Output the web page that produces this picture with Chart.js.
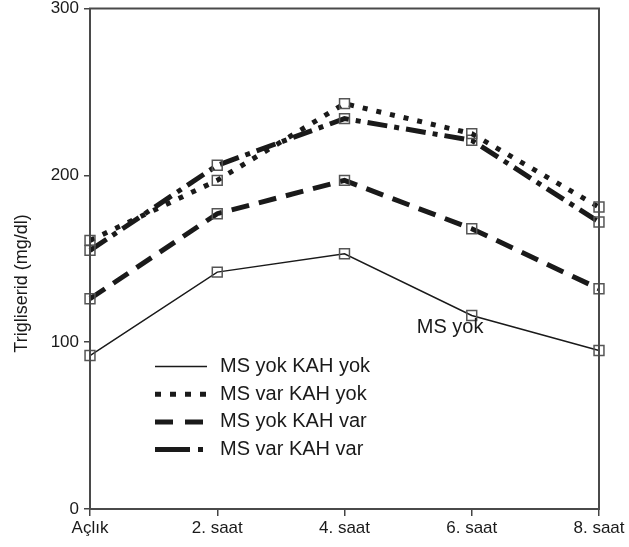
<!DOCTYPE html>
<html>
<head>
<meta charset="utf-8">
<script src="https://cdn.jsdelivr.net/npm/chart.js@4/dist/chart.umd.min.js"></script>
<style>
  html, body { margin: 0; padding: 0; background: #fff; }
  #wrap { width: 629px; height: 547px; }
</style>
</head>
<body>
<div id="wrap"><canvas id="c"></canvas></div>
<script>
// ---------- data ----------
const timeLabels = ["Açlık", "2. saat", "4. saat", "6. saat", "8. saat"];
const seriesNames = ["MS yok KAH yok", "MS var KAH yok", "MS yok KAH var", "MS var KAH var"];
const msYokKahYok = [92, 142, 153, 116, 95];
const msVarKahYok = [161, 197, 243, 225, 181];
const msYokKahVar = [126, 177, 197, 168, 132];
const msVarKahVar = [155, 206, 234, 221, 172];
const yTicks = [0, 100, 200, 300];
const yTitle = "Trigliserid (mg/dl)";
const noteText = "MS yok";
const notePos = [2.83, 109];   // category index, y value

const FONT = "'Liberation Sans', Arial, sans-serif";
const ink = '#1a1a1a';

// ---------- styles ----------
const styles = [
    { width: 1.5, dash: [], legendDash: [] },
    { width: 5, dash: [5, 9], legendDash: [6, 9] },
    { width: 5, dash: [18, 10], legendDash: [18, 12] },
    { width: 5, dash: [20, 7, 5, 7], legendDash: [35, 8, 5, 100] }
];
const seriesData = [msYokKahYok, msVarKahYok, msYokKahVar, msVarKahVar];

const datasets = seriesData.map((d, i) => ({
    label: seriesNames[i],
    data: d,
    borderColor: ink,
    borderWidth: styles[i].width,
    borderDash: styles[i].dash,
    borderCapStyle: 'butt',
    tension: 0,
    fill: false,
    pointStyle: 'rect',
    pointRadius: 7,
    pointBorderWidth: 1.5,
    pointBorderColor: '#555',
    pointBackgroundColor: 'rgba(255,255,255,0)'
}));

// ---------- plugin: frame, y title, legend, note ----------
const extras = {
    id: 'extras',
    afterDraw(chart) {
        const { ctx, chartArea: a, scales } = chart;
        ctx.save();
        // frame
        ctx.strokeStyle = '#4a4a4a';
        ctx.lineWidth = 2;
        ctx.strokeRect(a.left, a.top, a.right - a.left, a.bottom - a.top);

        // y axis title
        ctx.fillStyle = ink;
        ctx.font = '18px ' + FONT;
        ctx.textAlign = 'center';
        ctx.textBaseline = 'middle';
        ctx.save();
        ctx.translate(22, a.top + 275);
        ctx.rotate(-Math.PI / 2);
        ctx.fillText(yTitle, 0, 0);
        ctx.restore();

        // legend
        ctx.font = '20px ' + FONT;
        ctx.textAlign = 'left';
        seriesNames.forEach((name, i) => {
            const y = a.top + 358 + i * 27.7;
            const x0 = a.left + 65;
            ctx.strokeStyle = ink;
            ctx.lineWidth = styles[i].width;
            ctx.setLineDash(styles[i].legendDash);
            ctx.lineCap = 'butt';
            ctx.beginPath();
            ctx.moveTo(x0, y);
            ctx.lineTo(x0 + 52, y);
            ctx.stroke();
            ctx.setLineDash([]);
            ctx.fillText(name, x0 + 65, y);
        });

        // note
        ctx.textAlign = 'center';
        ctx.fillText(noteText, scales.x.getPixelForValue(notePos[0]), scales.y.getPixelForValue(notePos[1]));
        ctx.restore();
    }
};

new Chart(document.getElementById('c'), {
    type: 'line',
    data: { labels: timeLabels, datasets },
    options: {
        responsive: true,
        maintainAspectRatio: false,
        animation: false,
        layout: { padding: { top: 7, right: 30, left: 0, bottom: 0 } },
        plugins: { legend: { display: false }, tooltip: { enabled: false } },
        scales: {
            x: {
                offset: false,
                grid: { drawOnChartArea: false, drawTicks: true, tickLength: 7, color: '#444', lineWidth: 1.5 },
                border: { display: true, color: '#4a4a4a', width: 2 },
                ticks: { color: ink, font: { family: FONT, size: 17 }, padding: 2, maxRotation: 0, autoSkip: false },
                afterFit(s) { s.height = 38; s.paddingLeft = 0; s.paddingRight = 0; }
            },
            y: {
                min: 0,
                max: 300,
                afterBuildTicks(s) { s.ticks = yTicks.map(v => ({ value: v })); },
                grid: { drawOnChartArea: false, drawTicks: true, tickLength: 6, color: '#444', lineWidth: 1.5 },
                border: { display: true, color: '#4a4a4a', width: 2 },
                ticks: { color: ink, font: { family: FONT, size: 17 }, padding: 5 },
                afterFit(s) { s.width = 90; s.paddingTop = 0; s.paddingBottom = 0; }
            }
        }
    },
    plugins: [extras]
});
</script>
</body>
</html>
